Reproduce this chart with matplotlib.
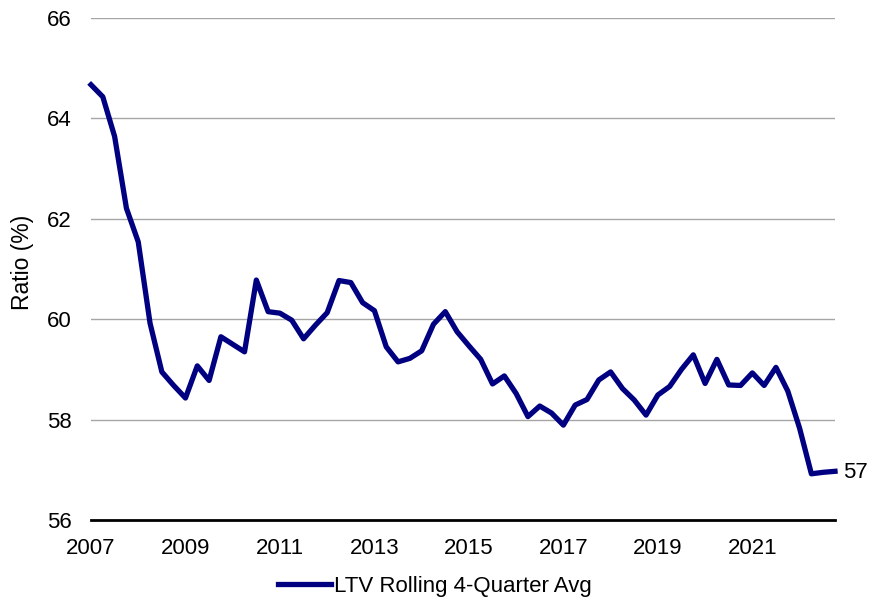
import matplotlib.pyplot as plt
import numpy as np

# quarterly values, 2007 Q1 .. 2022 Q4
ltv = [
    64.67, 64.43, 63.64, 62.21, 61.54, 59.92, 58.95, 58.68,
    58.43, 59.07, 58.78, 59.65, 59.50, 59.35, 60.78, 60.15,
    60.12, 59.98, 59.61, 59.88, 60.13, 60.77, 60.73, 60.33,
    60.17, 59.45, 59.15, 59.22, 59.37, 59.90, 60.15, 59.75,
    59.47, 59.20, 58.71, 58.87, 58.52, 58.06, 58.27, 58.13,
    57.89, 58.29, 58.40, 58.79, 58.95, 58.62, 58.39, 58.09,
    58.49, 58.66, 59.00, 59.29, 58.72, 59.20, 58.69, 58.68,
    58.93, 58.68, 59.04, 58.57, 57.83, 56.92, 56.95, 56.97,
]
year_labels = ["2007", "2009", "2011", "2013", "2015", "2017", "2019", "2021"]
y_ticks = [56, 58, 60, 62, 64, 66]

plt.rcParams["font.family"] = ["Liberation Sans", "DejaVu Sans"]

fig = plt.figure(figsize=(8.73, 6.01), dpi=100)
ax = fig.add_axes([91 / 873, 1 - 520 / 601, (835 - 91) / 873, (520 - 18) / 601])

x = np.arange(len(ltv))
ax.plot(x, ltv, color="#000080", linewidth=3.8, solid_joinstyle="round",
        label="LTV Rolling 4-Quarter Avg", clip_on=False)

ax.set_xlim(0, len(ltv) - 1)
ax.set_ylim(56, 66)
ax.set_yticks(y_ticks)
ax.set_xticks(np.arange(0, len(ltv), 8))
ax.set_xticklabels(year_labels)
ax.tick_params(length=0, labelsize=16)
ax.tick_params(axis="x", pad=13)
ax.tick_params(axis="y", pad=14)
ax.grid(axis="y", color="#a6a6a6", linewidth=1)
ax.set_axisbelow(True)
for side in ["top", "right", "left"]:
    ax.spines[side].set_visible(False)
ax.spines["bottom"].set_color("black")
ax.spines["bottom"].set_linewidth(2)
ax.spines["bottom"].set_zorder(3)

ax.set_ylabel("Ratio (%)", fontsize=16.5)
ax.yaxis.set_label_coords(-0.076, 0.514)

ax.annotate("57", xy=(x[-1], ltv[-1]), xytext=(6, -1), textcoords="offset points",
            va="center", ha="left", fontsize=16, annotation_clip=False)

ax.legend(loc="center", bbox_to_anchor=(0.462, -0.133), frameon=False,
          fontsize=16, handlelength=2.4, handletextpad=0.1)

fig.savefig("out.png", dpi=100)
